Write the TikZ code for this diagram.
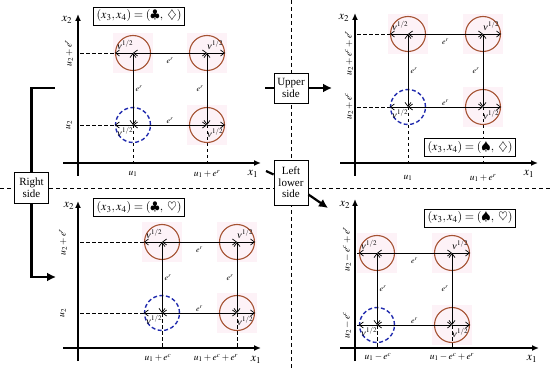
\documentclass[tikz,border=0pt]{standalone}
\usepackage{mathptmx}
\usepackage[no-math]{fontspec}
\setmainfont{Liberation Serif}
\usetikzlibrary{arrows.meta}
\definecolor{ringbrown}{RGB}{165,82,50}
\definecolor{ringblue}{RGB}{35,45,175}
\definecolor{softpink}{RGB}{253,242,247}
\tikzset{
  axis/.style={line width=1.4pt, -{Latex[length=7pt,width=6pt]}},
  guide/.style={line width=0.8pt, dash pattern=on 3.5pt off 2.5pt},
  divider/.style={line width=0.9pt, dash pattern=on 4pt off 3pt},
  link/.style={line width=0.7pt, {Straight Barb[length=4pt,width=6pt]}-{Straight Barb[length=4pt,width=6pt]}},
  rad/.style={line width=0.7pt, -{Straight Barb[length=4pt,width=6pt]}},
  ring/.style={circle, draw=ringbrown, line width=1.1pt, minimum size=35pt, inner sep=0pt},
  bluering/.style={circle, draw=ringblue, line width=1.4pt, dash pattern=on 4pt off 2.5pt, minimum size=35pt, inner sep=0pt},
  titlebox/.style={draw, line width=0.8pt, fill=white, inner sep=3pt, font=\fontsize{12}{12}\selectfont},
  sidebox/.style={draw, line width=0.8pt, fill=white, align=center, inner sep=2pt, minimum width=34pt, font=\fontsize{11}{11.5}\selectfont},
  flow/.style={line width=2.2pt},
  flowarrow/.style={line width=2.2pt, -{Latex[length=9pt,width=9pt]}},
  axlab/.style={inner sep=0pt, font=\fontsize{12}{12}\selectfont},
  vlab/.style={inner sep=0pt, font=\fontsize{9.5}{9.5}\selectfont},
  nulab/.style={inner sep=0pt, font=\fontsize{9}{9}\selectfont},
  elab/.style={inner sep=0pt, font=\fontsize{8}{8}\selectfont},
}
% #1 prefix, #2 left col x, #3 right col x, #4 top row y, #5 bottom row y, #6 y-axis x, #7 x-axis y
\newcommand{\gridpanel}[7]{%
  \fill[softpink] (#2-20,#4-20) rectangle (#2+20,#4+20);
  \fill[softpink] (#3-20,#4-20) rectangle (#3+20,#4+20);
  \fill[softpink] (#3-20,#5-20) rectangle (#3+20,#5+20);
  \coordinate (#1TL) at (#2,#4); \coordinate (#1TR) at (#3,#4);
  \coordinate (#1BL) at (#2,#5); \coordinate (#1BR) at (#3,#5);
  \coordinate (#1HT) at (#6+2,#4); \coordinate (#1HB) at (#6+2,#5);
  \coordinate (#1VL) at (#2,#7); \coordinate (#1VR) at (#3,#7);
  \draw[guide] (#1HT) -- (#1TL);
  \draw[guide] (#1HB) -- (#1BL);
  \draw[guide] (#1BL) -- (#1VL);
  \draw[guide] (#1BR) -- (#1VR);
  \node[ring] (#1cTL) at (#1TL) {};
  \node[ring] (#1cTR) at (#1TR) {};
  \node[ring] (#1cBR) at (#1BR) {};
  \node[bluering] (#1cBL) at (#1BL) {};
  \draw[link] (#1TL) -- (#1TR);
  \draw[link] (#1BL) -- (#1BR);
  \draw[link] (#1TL) -- (#1BL);
  \draw[link] (#1TR) -- (#1BR);
  \draw[rad] (#1TL) -- (#1cTL.west);
  \draw[rad] (#1TR) -- (#1cTR.east);
  \draw[rad] (#1BL) -- (#1cBL.west);
  \draw[rad] (#1BR) -- (#1cBR.east);
  \node[nulab] (#1nTL) at (#2-8,#4-8) {$\nu^{1/2}$};
  \node[nulab] (#1nTR) at (#3+8,#4-8) {$\nu^{1/2}$};
  \node[nulab] (#1nBL) at (#2-8,#5+7) {$\nu^{1/2}$};
  \node[nulab] (#1nBR) at (#3+8,#5+8) {$\nu^{1/2}$};
  \node[elab] (#1eT) at ({(#2+#3)/2},#4+8) {$e^r$};
  \node[elab] (#1eB) at ({(#2+#3)/2},#5-4) {$e^r$};
  \node[elab] (#1eL) at (#2+6,{(#4+#5)/2}) {$e^r$};
  \node[elab] (#1eR) at (#3-7,{(#4+#5)/2}) {$e^r$};
}
\begin{document}
\begin{tikzpicture}[x=1pt,y=-1pt]
\useasboundingbox (0,0) rectangle (550,369);
% dividers
\coordinate (dvT) at (291,0); \coordinate (dvB) at (291,369);
\coordinate (dhL) at (0,188); \coordinate (dhR) at (550,188);
\draw[divider] (dvT) -- (dvB);
\draw[divider] (dhL) -- (dhR);

% ---------- top-left panel ----------
\gridpanel{tl}{133}{207}{53}{125}{78}{163}
\coordinate (tlX0) at (63,163); \coordinate (tlX1) at (261,163);
\coordinate (tlY0) at (78,176); \coordinate (tlY1) at (78,14);
\draw[axis] (tlX0) -- (tlX1);
\draw[axis] (tlY0) -- (tlY1);
\node[axlab] (tlx2) at (67,20) {$x_2$};
\node[axlab] (tlx1) at (253,174) {$x_1$};
\node[vlab] (tlu1) at (133,174) {$u_1$};
\node[vlab] (tlu1r) at (207,174) {$u_1 + e^r$};
\node[vlab, rotate=90] (tlu2r) at (69,53) {$u_2 + e^r$};
\node[vlab, rotate=90] (tlu2) at (69,125) {$u_2$};
\node[titlebox] (tlt) at (139,16) {$(x_3,x_4) = (\clubsuit,\ \diamondsuit)$};

% ---------- top-right panel ----------
\gridpanel{tr}{408}{483}{34}{107}{355}{163}
\coordinate (trX0) at (340,163); \coordinate (trX1) at (538,163);
\coordinate (trY0) at (355,176); \coordinate (trY1) at (355,13);
\draw[axis] (trX0) -- (trX1);
\draw[axis] (trY0) -- (trY1);
\node[axlab] (trx2) at (344,18) {$x_2$};
\node[axlab] (trx1) at (529,174) {$x_1$};
\node[vlab] (tru1) at (408,178) {$u_1$};
\node[vlab] (tru1r) at (483,178) {$u_1 + e^r$};
\node[vlab, rotate=90] (tru2cr) at (349,53) {$u_2 + e^c + e^r$};
\node[vlab, rotate=90] (tru2c) at (349,106) {$u_2 + e^c$};
\node[titlebox] (trt) at (470,147.5) {$(x_3,x_4) = (\spadesuit,\ \diamondsuit)$};

% ---------- bottom-left panel ----------
\gridpanel{bl}{162}{237}{242}{313}{78}{348}
\coordinate (blX0) at (63,348); \coordinate (blX1) at (261,348);
\coordinate (blY0) at (78,361); \coordinate (blY1) at (78,201);
\draw[axis] (blX0) -- (blX1);
\draw[axis] (blY0) -- (blY1);
\node[axlab] (blx2) at (69,206) {$x_2$};
\node[axlab] (blx1) at (256,360) {$x_1$};
\node[vlab] (blu1c) at (158,358) {$u_1 + e^c$};
\node[vlab] (blu1cr) at (216,358) {$u_1 + e^c + e^r$};
\node[vlab, rotate=90] (blu2r) at (63,242) {$u_2 + e^r$};
\node[vlab, rotate=90] (blu2) at (63,313) {$u_2$};
\node[titlebox] (blt) at (139,207.5) {$(x_3,x_4) = (\clubsuit,\ \heartsuit)$};

% ---------- bottom-right panel ----------
\gridpanel{br}{377}{452}{253}{325}{355}{348}
\coordinate (brX0) at (340,348); \coordinate (brX1) at (539,348);
\coordinate (brY0) at (355,361); \coordinate (brY1) at (355,199);
\draw[axis] (brX0) -- (brX1);
\draw[axis] (brY0) -- (brY1);
\node[axlab] (brx2) at (345,205) {$x_2$};
\node[axlab] (brx1) at (532,359) {$x_1$};
\node[vlab] (bru1c) at (378,357) {$u_1 - e^c$};
\node[vlab] (bru1cr) at (452,357) {$u_1 - e^c + e^r$};
\node[vlab, rotate=90] (bru2cr) at (347,249) {$u_2 - e^c + e^r$};
\node[vlab, rotate=90] (bru2c) at (347,325) {$u_2 - e^c$};
\node[titlebox] (brt) at (470,218) {$(x_3,x_4) = (\spadesuit,\ \heartsuit)$};

% ---------- side boxes and connectors ----------
\node[sidebox, minimum height=31pt] (rs) at (31.5,187.5) {Right\\side};
\coordinate (rsA) at (55,88);
\coordinate (rsB) at (56,277);
\draw[flow] (rs.north) |- (rsA);
\draw[flowarrow] (rs.south) |- (rsB);

\node[sidebox, minimum height=30pt] (us) at (291,88) {Upper\\side};
\coordinate (usA) at (265,88);
\coordinate (usB) at (332,88);
\draw[flow] (usA) -- (us.west);
\draw[flowarrow] (us.east) -- (usB);

\node[sidebox, minimum height=45pt] (ll) at (291,182.5) {Left\\lower\\side};
\coordinate (llA) at (266,171);
\coordinate (llB) at (328,208);
\draw[flow] (llA) -- (ll);
\draw[flowarrow] (ll) -- (llB);
\end{tikzpicture}
\end{document}
